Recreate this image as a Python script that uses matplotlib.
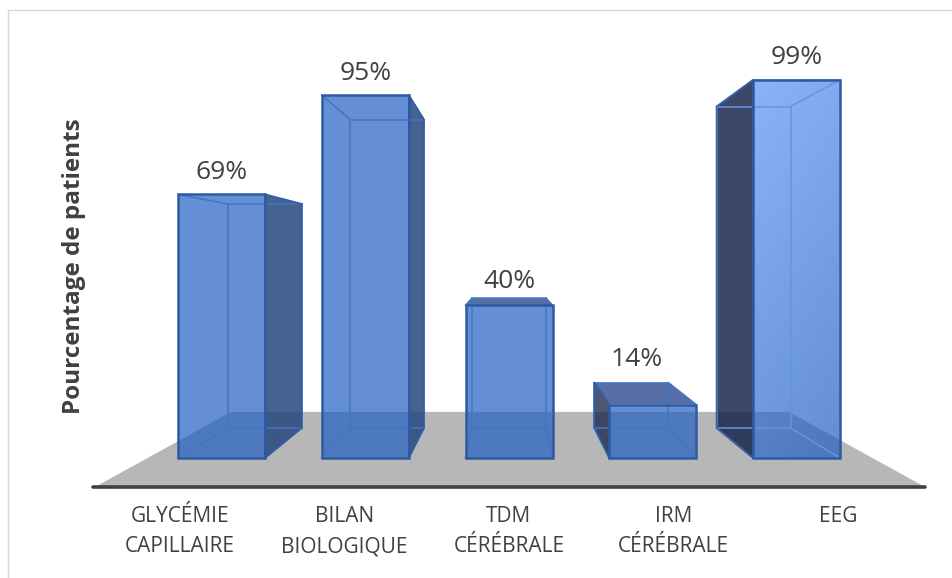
import numpy as np
import matplotlib
matplotlib.use("Agg")
import matplotlib.pyplot as plt
from matplotlib.patches import Polygon
from matplotlib.lines import Line2D

categories = ["GLYCÉMIE\nCAPILLAIRE", "BILAN\nBIOLOGIQUE", "TDM\nCÉRÉBRALE", "IRM\nCÉRÉBRALE", "EEG"]
values = [69, 95, 40, 14, 99]
value_labels = ["69%", "95%", "40%", "14%", "99%"]
y_title = "Pourcentage de patients"

W, H = 953, 578
X0, DX = 221.5, 143.75      # px of first bar centre, px per category
Y0, DY = 458.0, 3.82        # px of value 0, px per percent
VPX = (510 - X0) / DX
VPY = (Y0 - 258) / DY
BACK = 0.85                 # perspective scale of back of the bars
FLOOR_FRONT = 1.145         # perspective scale of front of the floor
HALF = 43.5 / DX
TXT = "#404040"
FONT = "Open Sans"


def proj(x, y, s):
    return VPX + s * (x - VPX), VPY + s * (y - VPY)


fig = plt.figure(figsize=(W / 100, H / 100), dpi=100)
ax = fig.add_axes([0, 0, 1, 1])
xlim = ((0 - X0) / DX, (W - X0) / DX)
ylim = ((Y0 - H) / DY, Y0 / DY)
ax.axis("off")

# outer frame
fig.add_artist(Line2D([8 / W, 8 / W, 1], [0, 1 - 10 / H, 1 - 10 / H], color="#D9D9D9", lw=1))

# floor
half_floor = (415 / DX) / FLOOR_FRONT
fl = [proj(VPX - half_floor, 0, FLOOR_FRONT), proj(VPX + half_floor, 0, FLOOR_FRONT),
      proj(VPX + half_floor, 0, FLOOR_FRONT * 0.672), proj(VPX - half_floor, 0, FLOOR_FRONT * 0.672)]
ax.add_patch(Polygon(fl, closed=True, fc="#B7B7B7", ec="none", zorder=1))
ax.add_line(Line2D([fl[0][0] - 2 / DX, fl[1][0]], [fl[0][1], fl[1][1]], color="#404040", lw=2.6,
                   solid_capstyle="round", zorder=2))

EDGE = "#2F5A9E"
INNER = "#4474C6"
for i, (v, lab) in enumerate(zip(values, value_labels)):
    z = 3 + i
    fl_, fr = i - HALF, i + HALF
    ftl, ftr, fbl, fbr = (fl_, v), (fr, v), (fl_, 0), (fr, 0)
    btl, btr = proj(fl_, v, BACK), proj(fr, v, BACK)
    bbl, bbr = proj(fl_, 0, BACK), proj(fr, 0, BACK)
    # visible side
    if i < VPX - 0.5:
        side = [ftr, btr, bbr, fbr]
        sc, sa = (37 / 255, 70 / 255, 125 / 255), 0.85
    elif i > VPX + 0.5:
        side = [ftl, btl, bbl, fbl]
        sc, sa = (16 / 255, 32 / 255, 70 / 255), 0.82 if i == 4 else 0.75
    else:
        side = None
    if side:
        ax.add_patch(Polygon(side, closed=True, fc=sc, alpha=sa, ec="none", zorder=z))
    if v < VPY:
        ax.add_patch(Polygon([ftl, ftr, btr, btl], closed=True, fc=(28 / 255, 62 / 255, 135 / 255), alpha=0.75,
                             ec="none", zorder=z))
    # front face
    if i == 4:
        ny, nx = 200, 40
        ty = np.linspace(0, 1, ny)[:, None]
        tx = np.linspace(0, 1, nx)[None, :]
        t = np.clip(0.8 * ty + 0.25 * tx, 0, 1)
        img = np.zeros((ny, nx, 4))
        top = np.array([84, 146, 248]) / 255
        bot = np.array([30, 93, 195]) / 255
        img[..., :3] = top[None, None, :] * (1 - t[..., None]) + bot[None, None, :] * t[..., None]
        img[..., 3] = 0.69
        ax.imshow(img, extent=(fl_, fr, 0, v), origin="upper", aspect="auto", zorder=z + 0.1,
                  interpolation="bilinear")
    else:
        ax.add_patch(Polygon([ftl, ftr, fbr, fbl], closed=True, fc=(30 / 255, 93 / 255, 195 / 255), alpha=0.69,
                             ec="none", zorder=z + 0.1))
    # inner edges
    for a, b in [(btl, btr), (btr, bbr), (bbr, bbl), (bbl, btl), (ftl, btl), (ftr, btr), (fbl, bbl), (fbr, bbr)]:
        ax.add_line(Line2D([a[0], b[0]], [a[1], b[1]], color=INNER if i != 4 else "#6494E2", lw=1.1, zorder=z + 0.2))
    # front edges
    ax.add_patch(Polygon([ftl, ftr, fbr, fbl], closed=True, fc="none", ec=EDGE, lw=1.8, zorder=z + 0.3))
    if side:
        ax.add_patch(Polygon(side, closed=True, fc="none", ec=EDGE, lw=1.2, alpha=0.9, zorder=z + 0.25))
    # value label
    if v < VPY:
        top_y = proj(0, v, BACK)[1]
        off = 17 if i == 2 else 23
        lx = (btl[0] + btr[0]) / 2 + (0 if i == 2 else 5 / DX)
    else:
        top_y, off, lx = v, 22, i
    ax.annotate(lab, (lx, top_y), xytext=(0, off * 0.72), textcoords="offset points", ha="center", va="center",
                fontsize=19, color=TXT, family=FONT, zorder=20)
    # category label
    cx = VPX + FLOOR_FRONT * (i - VPX)
    cy = 531.5 if "\n" in categories[i] else 516
    ax.text(cx, (Y0 - cy) / DY, categories[i], ha="center", va="center", fontsize=15, color=TXT, family=FONT,
            linespacing=1.62, zorder=20)

ax.text((74 - X0) / DX, (Y0 - 266) / DY, y_title, rotation=90, ha="center", va="center", fontsize=17.5,
        fontweight="bold", color=TXT, family=FONT, zorder=20)

ax.set_xlim(*xlim)
ax.set_ylim(*ylim)
fig.savefig("out.png", dpi=100)
